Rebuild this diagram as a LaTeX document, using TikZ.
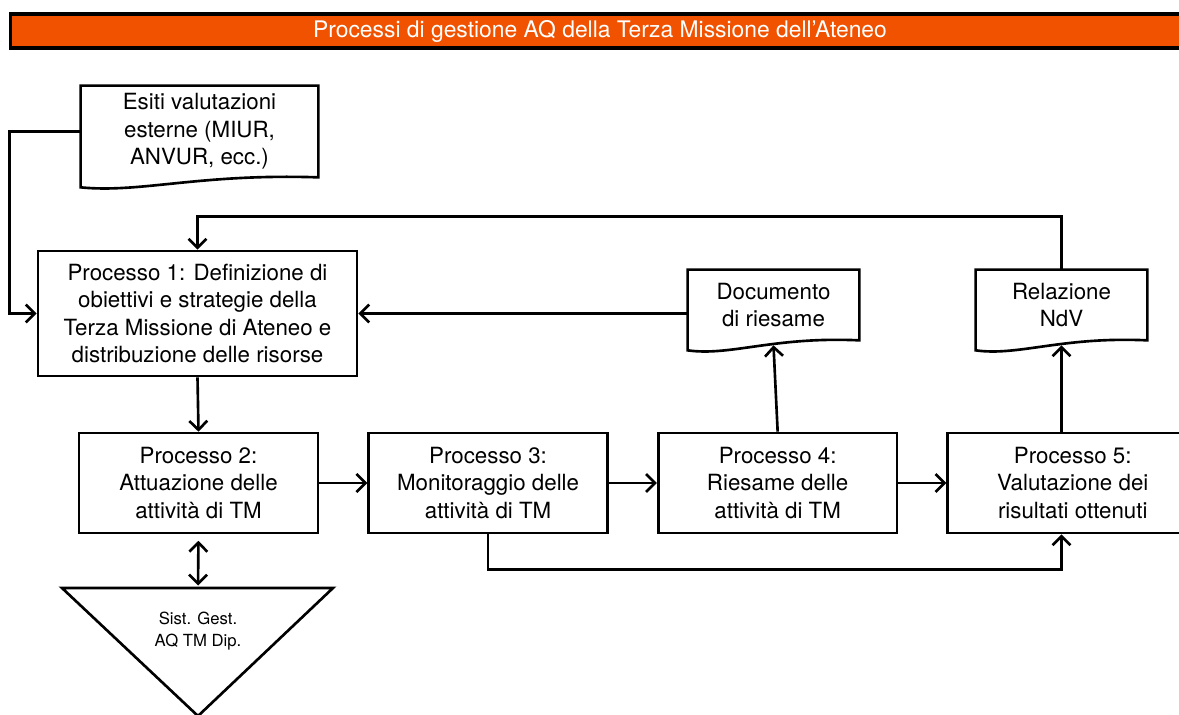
\documentclass[tikz,border=0pt]{standalone}
\usepackage{fontspec}
\setmainfont{TeX Gyre Heros}
\usetikzlibrary{
    positioning,
    arrows.meta,
    calc
}
\definecolor{aqorange}{RGB}{240,82,0}

% wavy-bottom document outline around a named node
\newcommand{\docoutline}[1]{%
  \draw[box_line] (#1.north west) -- (#1.north east) -- (#1.south east)
    .. controls ($(#1.south west)!0.5!(#1.south east)+(0,-4)$)
           and ($(#1.south west)!0.25!(#1.south east)+(0,16)$)
    .. ($(#1.south west)+(0,10)$) -- cycle;}

\begin{document}
\begin{tikzpicture}[
    x=0.02cm, y=-0.02cm,
    node distance=0.96cm and 0.96cm,
    % Estilos de Nodos
    box_line/.style={draw=black, line width=1.5pt},
    proc/.style={rectangle, box_line, fill=white, align=center,
        minimum width=4.78cm, minimum height=2cm, font=\fontsize{12.7}{15.6}\selectfont},
    doc/.style={rectangle, align=center, inner sep=0pt,
        minimum height=1.4cm, minimum width=3.42cm, font=\fontsize{12.7}{15.6}\selectfont},
    title_bar/.style={rectangle, draw=black, line width=1.8pt, fill=aqorange,
        text=white, minimum width=23.6cm, minimum height=0.68cm,
        font=\fontsize{13}{15}\selectfont},
    % Estilos de Flechas
    arrow/.style={-{Straight Barb[length=1.8mm, width=3.6mm]}, line width=1.5pt},
    both_arrow/.style={{Straight Barb[length=1.8mm, width=3.6mm]}-{Straight Barb[length=1.8mm, width=3.6mm]}, line width=1.5pt}
]
\useasboundingbox (0,0) rectangle (1179,714);

% --- TITOLO ---
\node[title_bar] (title) at (600,31) {Processi di gestione AQ della Terza Missione dell’Ateneo};

% --- INPUT ESTERNI ---
\node[doc, minimum width=4.74cm, minimum height=1.82cm] (esiti) at (199.5,131.5)
    {Esiti valutazioni\\esterne (MIUR,\\ANVUR, ecc.)};

% --- PROCESSO 1 ---
\node[proc, minimum width=6.38cm, minimum height=2.5cm] (p1) at (197.5,313.5)
    {Processo 1: Definizione di\\obiettivi e strategie della\\Terza Missione di Ateneo e\\distribuzione delle risorse};

% --- DOCUMENTI ---
\node[doc] (riesame) at (773.5,305) {Documento\\di riesame};
\node[doc] (relazione) at (1061.5,305) {Relazione\\NdV};
\foreach \d in {esiti, riesame, relazione} {\docoutline{\d}}

% --- PROCESSI 2-5 ---
\node[proc] (p2) at (198.5,483) {Processo 2:\\Attuazione delle\\attività di TM};
\node[proc] (p3) [right=of p2] {Processo 3:\\Monitoraggio delle\\attività di TM};
\node[proc] (p4) [right=of p3] {Processo 4:\\Riesame delle\\attività di TM};
\node[proc, minimum width=5cm] (p5) [right=of p4] {Processo 5:\\Valutazione dei\\risultati ottenuti};

% --- SISTEMA DIPARTIMENTI ---
\coordinate (tri_top) at (198,588);
\draw[box_line] ($(tri_top)+(-136,0)$) -- ($(tri_top)+(135,0)$) -- ($(tri_top)+(0,128)$) -- cycle;
\node[align=center, font=\fontsize{9.5}{12.5}\selectfont] (sgd) at (198,631) {Sist. Gest.\\AQ TM Dip.};

% --- FRECCE ---
\draw[arrow] (esiti.west) -- ++(-71,0) |- (p1.west);
\draw[arrow] (relazione.north) -- ++(0,-53) -| (p1.north);
\draw[arrow] (riesame.west |- p1.east) -- (p1.east);
\draw[arrow] (p1.south) -- (p2.north);
\draw[arrow] (p2) -- (p3);
\draw[arrow] (p3) -- (p4);
\draw[arrow] (p4) -- (p5);
\draw[arrow] (p4.north) -- ($(riesame.south)+(0,5)$);
\draw[arrow] (relazione.south |- p5.north) -- ($(relazione.south)+(0,5)$);
\draw[arrow] (p3.south) -- ++(0,35) -| (relazione.south |- p5.south);
\draw[both_arrow, shorten <=1.3mm, shorten >=0.5mm] (p2.south) -- (tri_top);

\end{tikzpicture}
\end{document}
